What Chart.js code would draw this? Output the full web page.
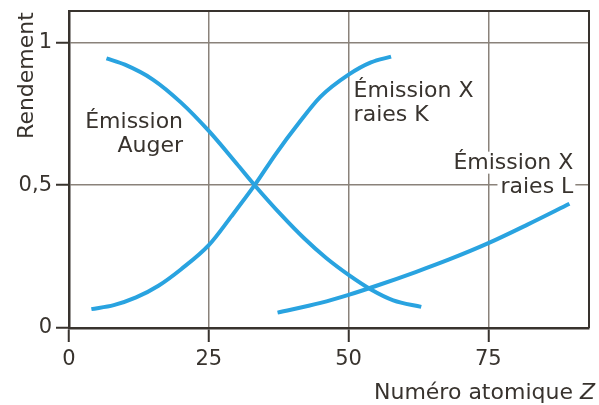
<!DOCTYPE html>
<html>
<head>
<meta charset="utf-8">
<script src="https://cdn.jsdelivr.net/npm/chart.js@4.4.0/dist/chart.umd.min.js"></script>
<style>
  html, body { margin: 0; padding: 0; background: #fff; }
  #wrap { width: 599px; height: 405px; }
</style>
</head>
<body>
<div id="wrap"><canvas id="yieldchart" width="599" height="405"></canvas></div>
<script>
// values (Z, yield)
const augerZ = [6.7, 10, 15, 20, 25, 30, 33.2, 38, 42, 46, 50, 54, 58, 63]
const augerV = [0.944, 0.922, 0.87, 0.79, 0.69, 0.575, 0.5, 0.395, 0.315, 0.245, 0.186, 0.135, 0.097, 0.074]

const kZ = [4, 8, 12, 16, 20, 25, 29, 33.2, 37, 41, 45, 50, 54, 57.6]
const kV = [0.066, 0.08, 0.107, 0.148, 0.205, 0.29, 0.39, 0.5, 0.61, 0.715, 0.81, 0.887, 0.93, 0.95]

const lZ = [37.3, 45, 50, 55, 62, 68, 75, 82, 89.5]
const lV = [0.054, 0.088, 0.116, 0.148, 0.196, 0.24, 0.297, 0.362, 0.435]

const xTicks = [0, 25, 50, 75]
const yTicks = [0, 0.5, 1]

// curve labels: anchor in data units
const labelText = [['Émission', 'Auger'], ['Émission X', 'raies K'], ['Émission X', 'raies L']]
const labelZ = [20.4, 50.9, 90.2]
const labelV = [0.702, 0.81, 0.558]
const labelAlign = ['right', 'left', 'right']

const xTitle = 'Numéro atomique '
const xTitleVar = 'Z'
const yTitle = 'Rendement'

const ink = '#38332e'
const gridCol = '#8a827a'
const blue = '#29a3e0'
const FONT = '"DejaVu Sans", sans-serif'

function toPoints(xs, ys) {
  return xs.map((x, i) => ({ x: x, y: ys[i] }))
}

function curve(xs, ys) {
  return {
    data: toPoints(xs, ys),
    borderColor: blue,
    borderWidth: 4,
    pointRadius: 0,
    fill: false,
    showLine: true,
    cubicInterpolationMode: 'monotone',
    borderCapStyle: 'butt'
  }
}

const textPlugin = {
  id: 'texts',
  beforeDatasetsDraw(chart) {
    const ctx = chart.ctx
    const xs = chart.scales.x
    const ys = chart.scales.y
    ctx.save()
    ctx.font = '22px ' + FONT
    ctx.textBaseline = 'alphabetic'
    for (let i = 0; i < labelText.length; i++) {
      const px = xs.getPixelForValue(labelZ[i])
      const py = ys.getPixelForValue(labelV[i])
      labelText[i].forEach((line, j) => {
        const w = ctx.measureText(line).width
        const left = labelAlign[i] === 'right' ? px - w : px
        const base = py + j * 24
        ctx.fillStyle = '#fff'
        ctx.fillRect(left - 3, base - 17, w + 5, 22)
        ctx.fillStyle = ink
        ctx.textAlign = 'left'
        ctx.fillText(line, left, base)
      })
    }
    ctx.restore()
  },
  afterDraw(chart) {
    const ctx = chart.ctx
    const a = chart.chartArea
    ctx.save()
    // top and right frame
    ctx.strokeStyle = ink
    ctx.lineWidth = 2
    ctx.beginPath()
    ctx.moveTo(a.left, a.top)
    ctx.lineTo(a.right, a.top)
    ctx.lineTo(a.right, a.bottom)
    ctx.stroke()

    // axis titles
    ctx.fillStyle = ink
    ctx.textBaseline = 'alphabetic'
    ctx.font = 'italic 22px ' + FONT
    const wz = ctx.measureText(xTitleVar).width
    ctx.textAlign = 'right'
    ctx.fillText(xTitleVar, 595, 399)
    ctx.font = '22px ' + FONT
    ctx.fillText(xTitle, 595 - wz, 399)

    ctx.translate(33, 75.5)
    ctx.rotate(-Math.PI / 2)
    ctx.textAlign = 'center'
    ctx.fillText(yTitle, 0, 0)
    ctx.restore()
  }
}

const ctx = document.getElementById('yieldchart').getContext('2d')
// eslint-disable-next-line no-unused-vars
const chart = new Chart(ctx, {
  type: 'scatter',
  data: {
    datasets: [curve(augerZ, augerV), curve(kZ, kV), curve(lZ, lV)]
  },
  options: {
    responsive: false,
    animation: false,
    layout: { padding: { top: 11, right: 10, left: 0, bottom: 0 } },
    plugins: { legend: { display: false }, tooltip: { enabled: false } },
    scales: {
      x: {
        type: 'linear',
        min: 0,
        max: 93,
        afterFit: (s) => { s.height = 77; s.paddingLeft = 0; s.paddingRight = 0 },
        afterBuildTicks: (s) => { s.ticks = xTicks.map(v => ({ value: v })) },
        ticks: { color: ink, font: { family: FONT, size: 21 }, padding: 5, maxRotation: 0 },
        grid: { color: gridCol, lineWidth: 1.5, tickColor: ink, tickLength: 14, tickWidth: 2 },
        border: { color: ink, width: 2.5 }
      },
      y: {
        type: 'linear',
        min: 0,
        max: 1.11,
        afterFit: (s) => { s.width = 69; s.paddingTop = 0; s.paddingBottom = 0 },
        afterBuildTicks: (s) => { s.ticks = yTicks.map(v => ({ value: v })) },
        ticks: {
          color: ink,
          font: { family: FONT, size: 21 },
          padding: 4,
          callback: (v) => String(v).replace('.', ',')
        },
        grid: { color: gridCol, lineWidth: 1.5, tickColor: ink, tickLength: 13, tickWidth: 2 },
        border: { color: ink, width: 2.5 }
      }
    }
  },
  plugins: [textPlugin]
})
</script>
</body>
</html>
